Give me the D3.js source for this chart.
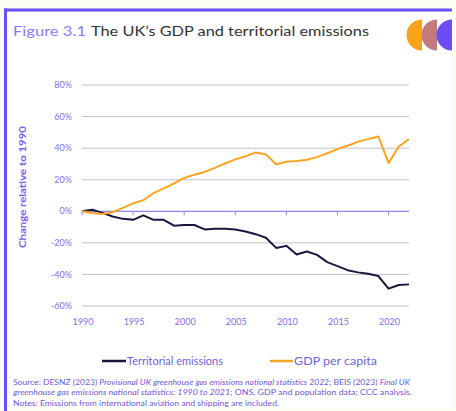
<!DOCTYPE html>
<html><head><meta charset="utf-8">
<script src="https://cdn.jsdelivr.net/npm/d3@7"></script>
<style>
html,body{margin:0;padding:0;background:#fdfcf4;}
svg{display:block;font-family:Lato, "Open Sans", sans-serif;}
</style></head>
<body>
<svg id="chart" width="456" height="411"></svg>
<script>
const years = d3.range(1990, 2023);
const emissions = [0, 1, -1, -3.3, -4.8, -5.4, -2.6, -5.4, -5.4, -9.1, -8.7, -8.7, -11.5, -11.1, -11.1, -11.5, -12.8, -14.5, -16.8, -23.2, -21.9, -27.4, -25.5, -27.6, -32.2, -34.7, -37.3, -38.7, -39.6, -41, -49, -46.7, -46.3];
const gdp = [0, -1.1, -1.7, -0.6, 2.2, 5, 7, 11.5, 14.5, 17.6, 21.1, 23.2, 24.9, 27.5, 30.3, 32.9, 34.9, 37.3, 36, 29.8, 31.4, 31.8, 32.6, 34.3, 36.8, 39.4, 41.5, 44, 45.7, 47.4, 30.5, 41, 45.7];
const yTicks = [80, 60, 40, 20, 0, -20, -40, -60];
const xTicks = [1990, 1995, 2000, 2005, 2010, 2015, 2020];
const seriesNames = ["Territorial emissions", "GDP per capita"];
const seriesColors = ["#1d1540", "#f6a623"];
const titleLead = "Figure 3.1";
const titleText = "The UK\u2019s GDP and territorial emissions";
const yTitle = "Change relative to 1990";

const svg = d3.select("#chart");
// panel
svg.append("rect").attr("x", 5).attr("y", 10).attr("width", 447).attr("height", 398).attr("fill", "#ffffff");
svg.append("line").attr("x1", 5.5).attr("x2", 5.5).attr("y1", 8.5).attr("y2", 411).attr("stroke", "#6c4cf5").attr("stroke-width", 3);
svg.append("line").attr("x1", 4).attr("x2", 452).attr("y1", 10).attr("y2", 10).attr("stroke", "#6c4cf5").attr("stroke-width", 3);

// title
svg.append("text").attr("x", 13).attr("y", 36).attr("font-size", 13.5).attr("fill", "#8a7cf2")
  .attr("textLength", 73).attr("lengthAdjust", "spacingAndGlyphs").text(titleLead);
svg.append("text").attr("x", 91).attr("y", 36).attr("font-size", 13.5).attr("fill", "#333333")
  .attr("textLength", 278).attr("lengthAdjust", "spacingAndGlyphs").text(titleText);

// logo
const logoColors = ["#f9a51a", "#c47b7c", "#6c4cf5"];
const arc = d3.arc().innerRadius(0).outerRadius(15.5).startAngle(Math.PI).endAngle(2 * Math.PI);
logoColors.forEach((c, i) => {
  svg.append("path").attr("d", arc()).attr("transform", `translate(${422 + i * 15},35)`).attr("fill", c);
});

const x = d3.scaleLinear().domain([1990, 2022]).range([82, 409]);
const y = d3.scaleLinear().domain([-60, 80]).range([306, 85]);

// gridlines
svg.append("g").selectAll("line").data(yTicks.filter(d => d !== 0)).join("line")
  .attr("x1", 82).attr("x2", 409).attr("y1", d => y(d)).attr("y2", d => y(d))
  .attr("stroke", "#c2c2c2").attr("stroke-width", 1);

// y labels
svg.append("g").selectAll("text").data(yTicks).join("text")
  .attr("x", 72).attr("y", d => y(d)).attr("dy", "0.35em").attr("text-anchor", "end")
  .attr("font-size", 9).attr("fill", "#7d70ee").text(d => d + "%");

// zero axis with ticks
svg.append("line").attr("x1", 82).attr("x2", 409).attr("y1", y(0)).attr("y2", y(0))
  .attr("stroke", "#8e86f5").attr("stroke-width", 1.2);
svg.append("g").selectAll("line").data(xTicks).join("line")
  .attr("x1", d => x(d)).attr("x2", d => x(d)).attr("y1", y(0)).attr("y2", y(0) + 4)
  .attr("stroke", "#8e86f5").attr("stroke-width", 1);

// x labels
svg.append("g").selectAll("text").data(xTicks).join("text")
  .attr("x", d => x(d) + 1).attr("y", 325).attr("text-anchor", "middle")
  .attr("font-size", 9).attr("fill", "#7d70ee").text(d => d);

// y title
svg.append("text").attr("transform", "translate(26,187) rotate(-90)").attr("text-anchor", "middle")
  .attr("font-size", 10).attr("font-weight", "bold").attr("fill", "#7b5cf2")
  .attr("textLength", 122).attr("lengthAdjust", "spacingAndGlyphs").text(yTitle);

// lines
const line = d3.line().x((d, i) => x(years[i])).y(d => y(d)).curve(d3.curveLinear);
[emissions, gdp].forEach((s, k) => {
  svg.append("path").attr("d", line(s)).attr("fill", "none").attr("stroke", seriesColors[k])
    .attr("stroke-width", 2).attr("stroke-linejoin", "round");
});

// legend
const legendPos = [{x1: 102, x2: 126, tw: 96}, {x1: 270, x2: 293, tw: 83}];
seriesNames.forEach((n, i) => {
  const p = legendPos[i];
  svg.append("line").attr("x1", p.x1).attr("x2", p.x2).attr("y1", 361).attr("y2", 361)
    .attr("stroke", seriesColors[i]).attr("stroke-width", 2.5);
  svg.append("text").attr("x", p.x2 + 1).attr("y", 365).attr("font-size", 11).attr("fill", "#6e5fe0")
    .attr("textLength", p.tw).attr("lengthAdjust", "spacingAndGlyphs").text(n);
});

// source
const sourceLines = [
  {parts: [["Source: DESNZ (2023) ", false], ["Provisional UK greenhouse gas emissions national statistics 2022", true], ["; BEIS (2023) ", false], ["Final UK", true]], w: 397, y: 384.5},
  {parts: [["greenhouse gas emissions national statistics: 1990 to 2021", true], ["; ONS, GDP and population data; CCC analysis.", false]], w: 399, y: 395},
  {parts: [["Notes: Emissions from international aviation and shipping are included.", false]], w: 266, y: 405.5}
];
sourceLines.forEach(l => {
  const t = svg.append("text").attr("x", 13).attr("y", l.y).attr("font-size", 7.6).attr("fill", "#6a5ad8")
    .attr("textLength", l.w).attr("lengthAdjust", "spacingAndGlyphs");
  l.parts.forEach(p => t.append("tspan").attr("font-style", p[1] ? "italic" : "normal").text(p[0]));
});
</script>
</body></html>
